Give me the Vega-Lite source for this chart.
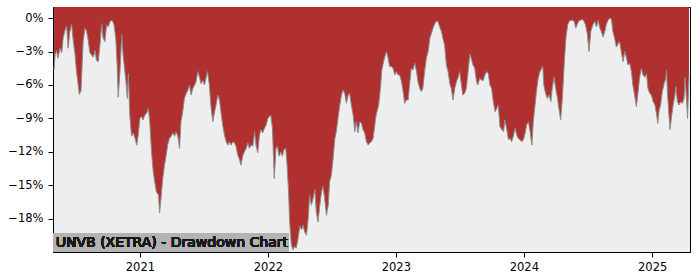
{
  "$schema": "https://vega.github.io/schema/vega-lite/v6.json",
  "width": 637,
  "height": 245,
  "autosize": {"type": "none"},
  "padding": {"left": 53, "top": 7, "right": 10, "bottom": 28},
  "background": "white",
  "config": {
    "font": "DejaVu Sans",
    "view": {"fill": "#EEEEEE", "stroke": "#000000", "strokeWidth": 1},
    "axis": {
      "domainColor": "#000000",
      "tickColor": "#000000",
      "labelColor": "#000000",
      "labelFont": "DejaVu Sans",
      "labelFontSize": 11.5,
      "tickSize": 5,
      "grid": false,
      "title": null
    }
  },
  "data": {"values": [
    {"d":"2020-05-01","v":-4.66},{"d":"2020-05-04","v":-3.3},{"d":"2020-05-08","v":-2.9},{"d":"2020-05-12","v":-3.6},{"d":"2020-05-18","v":-2.7},{"d":"2020-05-23","v":-3.1},{"d":"2020-05-27","v":-1.8},{"d":"2020-06-01","v":-1.1},{"d":"2020-06-06","v":-0.7},{"d":"2020-06-10","v":-2.7},{"d":"2020-06-15","v":-1.2},{"d":"2020-06-20","v":-0.57},{"d":"2020-06-25","v":-2.1},{"d":"2020-06-30","v":-3.3},{"d":"2020-07-04","v":-4.8},{"d":"2020-07-09","v":-6.0},{"d":"2020-07-12","v":-6.85},{"d":"2020-07-17","v":-6.5},{"d":"2020-07-20","v":-4.2},{"d":"2020-07-23","v":-2.1},{"d":"2020-07-28","v":-0.9},{"d":"2020-08-02","v":-1.2},{"d":"2020-08-07","v":-2.1},{"d":"2020-08-11","v":-3.1},{"d":"2020-08-16","v":-3.3},{"d":"2020-08-21","v":-3.5},{"d":"2020-08-26","v":-2.9},{"d":"2020-08-30","v":-3.8},{"d":"2020-09-04","v":-3.9},{"d":"2020-09-09","v":-2.4},{"d":"2020-09-14","v":-0.5},{"d":"2020-09-18","v":-1.8},{"d":"2020-09-23","v":-2.1},{"d":"2020-09-28","v":-0.6},{"d":"2020-10-03","v":-0.8},{"d":"2020-10-07","v":-0.3},{"d":"2020-10-14","v":-0.2},{"d":"2020-10-19","v":-0.6},{"d":"2020-10-24","v":-1.8},{"d":"2020-10-28","v":-4.2},{"d":"2020-10-31","v":-7.1},{"d":"2020-11-05","v":-4.8},{"d":"2020-11-10","v":-1.5},{"d":"2020-11-14","v":-3.3},{"d":"2020-11-22","v":-5.7},{"d":"2020-11-26","v":-7.2},{"d":"2020-11-29","v":-5.0},{"d":"2020-12-03","v":-8.7},{"d":"2020-12-08","v":-10.6},{"d":"2020-12-13","v":-10.3},{"d":"2020-12-18","v":-10.8},{"d":"2020-12-23","v":-11.4},{"d":"2020-12-27","v":-10.5},
    {"d":"2021-01-01","v":-9.0},{"d":"2021-01-06","v":-8.85},{"d":"2021-01-10","v":-9.15},{"d":"2021-01-15","v":-8.7},{"d":"2021-01-20","v":-8.55},{"d":"2021-01-25","v":-8.1},{"d":"2021-01-29","v":-9.3},{"d":"2021-02-03","v":-12.0},{"d":"2021-02-08","v":-13.8},{"d":"2021-02-12","v":-14.7},{"d":"2021-02-17","v":-15.6},{"d":"2021-02-23","v":-15.9},{"d":"2021-02-26","v":-17.5},{"d":"2021-03-02","v":-16.2},{"d":"2021-03-07","v":-14.4},{"d":"2021-03-12","v":-13.2},{"d":"2021-03-17","v":-12.3},{"d":"2021-03-21","v":-11.4},{"d":"2021-03-26","v":-10.8},{"d":"2021-03-31","v":-10.6},{"d":"2021-04-05","v":-10.3},{"d":"2021-04-10","v":-10.6},{"d":"2021-04-14","v":-10.2},{"d":"2021-04-19","v":-10.6},{"d":"2021-04-24","v":-11.7},{"d":"2021-04-28","v":-9.3},{"d":"2021-05-03","v":-8.4},{"d":"2021-05-08","v":-7.2},{"d":"2021-05-13","v":-6.75},{"d":"2021-05-18","v":-6.45},{"d":"2021-05-22","v":-6.0},{"d":"2021-05-27","v":-6.9},{"d":"2021-06-01","v":-6.3},{"d":"2021-06-06","v":-6.0},{"d":"2021-06-10","v":-5.7},{"d":"2021-06-15","v":-4.8},{"d":"2021-06-20","v":-5.3},{"d":"2021-06-24","v":-5.9},{"d":"2021-06-29","v":-5.6},{"d":"2021-07-04","v":-6.0},{"d":"2021-07-09","v":-5.3},{"d":"2021-07-13","v":-4.8},{"d":"2021-07-18","v":-6.0},{"d":"2021-07-23","v":-8.1},{"d":"2021-07-28","v":-9.3},{"d":"2021-08-02","v":-8.4},{"d":"2021-08-06","v":-7.8},{"d":"2021-08-11","v":-6.9},{"d":"2021-08-16","v":-7.35},{"d":"2021-08-20","v":-8.4},{"d":"2021-08-25","v":-9.6},{"d":"2021-08-30","v":-10.5},{"d":"2021-09-04","v":-11.1},{"d":"2021-09-09","v":-11.4},{"d":"2021-09-13","v":-11.1},{"d":"2021-09-18","v":-11.4},{"d":"2021-09-23","v":-11.1},{"d":"2021-09-28","v":-11.2},{"d":"2021-10-02","v":-11.5},{"d":"2021-10-07","v":-12.3},{"d":"2021-10-12","v":-12.7},{"d":"2021-10-16","v":-13.2},{"d":"2021-10-21","v":-12.4},{"d":"2021-10-26","v":-12.0},{"d":"2021-10-31","v":-11.7},{"d":"2021-11-05","v":-11.2},{"d":"2021-11-09","v":-11.7},{"d":"2021-11-14","v":-11.4},{"d":"2021-11-19","v":-11.5},{"d":"2021-11-24","v":-10.2},{"d":"2021-11-28","v":-11.4},{"d":"2021-12-03","v":-12.1},{"d":"2021-12-08","v":-10.5},{"d":"2021-12-12","v":-10.0},{"d":"2021-12-17","v":-10.3},{"d":"2021-12-22","v":-9.9},{"d":"2021-12-27","v":-9.6},
    {"d":"2022-01-01","v":-9.0},{"d":"2022-01-05","v":-8.85},{"d":"2022-01-09","v":-8.7},{"d":"2022-01-14","v":-9.9},{"d":"2022-01-19","v":-14.4},{"d":"2022-01-24","v":-11.7},{"d":"2022-01-28","v":-11.5},{"d":"2022-02-02","v":-12.4},{"d":"2022-02-07","v":-12.0},{"d":"2022-02-11","v":-12.4},{"d":"2022-02-16","v":-11.8},{"d":"2022-02-21","v":-11.7},{"d":"2022-02-24","v":-12.9},{"d":"2022-03-01","v":-15.6},{"d":"2022-03-04","v":-18.3},{"d":"2022-03-09","v":-20.4},{"d":"2022-03-14","v":-20.8},{"d":"2022-03-18","v":-20.5},{"d":"2022-03-23","v":-20.65},{"d":"2022-03-28","v":-19.8},{"d":"2022-04-02","v":-18.7},{"d":"2022-04-07","v":-19.0},{"d":"2022-04-11","v":-18.6},{"d":"2022-04-16","v":-19.2},{"d":"2022-04-21","v":-19.5},{"d":"2022-04-26","v":-18.0},{"d":"2022-04-30","v":-15.9},{"d":"2022-05-05","v":-16.8},{"d":"2022-05-10","v":-16.2},{"d":"2022-05-15","v":-15.4},{"d":"2022-05-19","v":-17.4},{"d":"2022-05-24","v":-18.3},{"d":"2022-05-29","v":-16.8},{"d":"2022-06-03","v":-15.6},{"d":"2022-06-07","v":-15.1},{"d":"2022-06-12","v":-16.2},{"d":"2022-06-17","v":-17.7},{"d":"2022-06-22","v":-16.8},{"d":"2022-06-26","v":-14.7},{"d":"2022-07-01","v":-14.1},{"d":"2022-07-06","v":-12.6},{"d":"2022-07-11","v":-10.8},{"d":"2022-07-15","v":-10.2},{"d":"2022-07-20","v":-9.0},{"d":"2022-07-25","v":-7.8},{"d":"2022-07-30","v":-6.9},{"d":"2022-08-03","v":-6.45},{"d":"2022-08-08","v":-6.75},{"d":"2022-08-13","v":-7.65},{"d":"2022-08-18","v":-6.9},{"d":"2022-08-22","v":-6.75},{"d":"2022-08-27","v":-7.8},{"d":"2022-09-01","v":-8.7},{"d":"2022-09-06","v":-10.2},{"d":"2022-09-10","v":-9.3},{"d":"2022-09-15","v":-10.3},{"d":"2022-09-20","v":-9.3},{"d":"2022-09-25","v":-9.45},{"d":"2022-09-29","v":-10.0},{"d":"2022-10-04","v":-10.3},{"d":"2022-10-09","v":-11.1},{"d":"2022-10-14","v":-11.4},{"d":"2022-10-18","v":-11.2},{"d":"2022-10-23","v":-11.1},{"d":"2022-10-28","v":-10.8},{"d":"2022-11-02","v":-9.6},{"d":"2022-11-04","v":-9.0},{"d":"2022-11-08","v":-8.4},{"d":"2022-11-13","v":-7.8},{"d":"2022-11-18","v":-6.3},{"d":"2022-11-22","v":-4.65},{"d":"2022-11-27","v":-3.9},{"d":"2022-12-02","v":-3.3},{"d":"2022-12-05","v":-3.0},{"d":"2022-12-10","v":-3.6},{"d":"2022-12-14","v":-4.35},{"d":"2022-12-19","v":-4.35},{"d":"2022-12-24","v":-4.5},{"d":"2022-12-29","v":-5.1},
    {"d":"2023-01-03","v":-4.8},{"d":"2023-01-07","v":-5.1},{"d":"2023-01-12","v":-5.1},{"d":"2023-01-17","v":-5.7},{"d":"2023-01-21","v":-6.45},{"d":"2023-01-26","v":-7.65},{"d":"2023-01-31","v":-7.35},{"d":"2023-02-05","v":-7.35},{"d":"2023-02-09","v":-6.0},{"d":"2023-02-14","v":-4.5},{"d":"2023-02-19","v":-4.65},{"d":"2023-02-24","v":-4.05},{"d":"2023-03-01","v":-4.8},{"d":"2023-03-05","v":-5.7},{"d":"2023-03-10","v":-6.3},{"d":"2023-03-15","v":-6.6},{"d":"2023-03-19","v":-6.3},{"d":"2023-03-24","v":-4.8},{"d":"2023-03-29","v":-3.6},{"d":"2023-04-03","v":-3.0},{"d":"2023-04-08","v":-1.8},{"d":"2023-04-12","v":-1.4},{"d":"2023-04-17","v":-0.9},{"d":"2023-04-22","v":-0.5},{"d":"2023-04-27","v":-0.27},{"d":"2023-05-01","v":-0.3},{"d":"2023-05-06","v":-0.8},{"d":"2023-05-11","v":-1.2},{"d":"2023-05-15","v":-1.8},{"d":"2023-05-20","v":-2.4},{"d":"2023-05-25","v":-4.2},{"d":"2023-05-30","v":-4.8},{"d":"2023-06-04","v":-5.9},{"d":"2023-06-08","v":-6.3},{"d":"2023-06-13","v":-7.35},{"d":"2023-06-18","v":-6.3},{"d":"2023-06-23","v":-5.7},{"d":"2023-06-27","v":-5.4},{"d":"2023-07-02","v":-4.8},{"d":"2023-07-07","v":-6.0},{"d":"2023-07-11","v":-6.9},{"d":"2023-07-16","v":-6.75},{"d":"2023-07-21","v":-6.3},{"d":"2023-07-26","v":-4.8},{"d":"2023-07-31","v":-3.2},{"d":"2023-08-04","v":-3.6},{"d":"2023-08-09","v":-4.2},{"d":"2023-08-14","v":-4.5},{"d":"2023-08-19","v":-5.7},{"d":"2023-08-23","v":-6.0},{"d":"2023-08-28","v":-5.4},{"d":"2023-09-02","v":-5.55},{"d":"2023-09-07","v":-5.6},{"d":"2023-09-12","v":-5.1},{"d":"2023-09-17","v":-4.8},{"d":"2023-09-22","v":-5.0},{"d":"2023-09-26","v":-6.0},{"d":"2023-10-01","v":-6.3},{"d":"2023-10-06","v":-7.5},{"d":"2023-10-11","v":-8.4},{"d":"2023-10-16","v":-8.1},{"d":"2023-10-20","v":-7.8},{"d":"2023-10-25","v":-9.75},{"d":"2023-10-30","v":-10.0},{"d":"2023-11-04","v":-10.2},{"d":"2023-11-08","v":-9.15},{"d":"2023-11-13","v":-9.9},{"d":"2023-11-18","v":-10.9},{"d":"2023-11-23","v":-10.8},{"d":"2023-11-27","v":-11.1},{"d":"2023-12-02","v":-10.6},{"d":"2023-12-07","v":-9.9},{"d":"2023-12-12","v":-10.5},{"d":"2023-12-16","v":-10.8},{"d":"2023-12-21","v":-10.9},{"d":"2023-12-26","v":-11.1},{"d":"2023-12-31","v":-10.9},
    {"d":"2024-01-05","v":-10.3},{"d":"2024-01-09","v":-9.6},{"d":"2024-01-14","v":-9.3},{"d":"2024-01-19","v":-10.2},{"d":"2024-01-24","v":-11.4},{"d":"2024-01-28","v":-9.3},{"d":"2024-02-02","v":-7.8},{"d":"2024-02-07","v":-6.3},{"d":"2024-02-11","v":-5.4},{"d":"2024-02-16","v":-4.8},{"d":"2024-02-21","v":-4.5},{"d":"2024-02-24","v":-4.35},{"d":"2024-02-27","v":-6.0},{"d":"2024-03-03","v":-6.75},{"d":"2024-03-08","v":-7.2},{"d":"2024-03-13","v":-6.9},{"d":"2024-03-18","v":-7.5},{"d":"2024-03-22","v":-6.3},{"d":"2024-03-27","v":-5.3},{"d":"2024-04-01","v":-6.3},{"d":"2024-04-06","v":-7.2},{"d":"2024-04-10","v":-8.1},{"d":"2024-04-15","v":-9.15},{"d":"2024-04-20","v":-7.2},{"d":"2024-04-25","v":-4.2},{"d":"2024-04-30","v":-1.8},{"d":"2024-05-05","v":-0.6},{"d":"2024-05-09","v":-0.3},{"d":"2024-05-14","v":-0.2},{"d":"2024-05-19","v":-0.2},{"d":"2024-05-24","v":-0.3},{"d":"2024-05-28","v":-0.9},{"d":"2024-06-02","v":-0.5},{"d":"2024-06-07","v":-0.2},{"d":"2024-06-11","v":-0.2},{"d":"2024-06-16","v":-0.1},{"d":"2024-06-21","v":-0.3},{"d":"2024-06-25","v":-0.6},{"d":"2024-06-30","v":-1.4},{"d":"2024-07-05","v":-3.0},{"d":"2024-07-10","v":-1.2},{"d":"2024-07-16","v":-0.6},{"d":"2024-07-21","v":-0.3},{"d":"2024-07-26","v":-0.8},{"d":"2024-07-31","v":-0.2},{"d":"2024-08-04","v":-0.8},{"d":"2024-08-09","v":-1.2},{"d":"2024-08-14","v":-1.7},{"d":"2024-08-19","v":-1.2},{"d":"2024-08-23","v":-0.6},{"d":"2024-08-28","v":-0.2},{"d":"2024-09-02","v":0.0},{"d":"2024-09-07","v":-0.1},{"d":"2024-09-11","v":-1.2},{"d":"2024-09-16","v":-1.8},{"d":"2024-09-21","v":-2.6},{"d":"2024-09-26","v":-2.3},{"d":"2024-09-30","v":-2.1},{"d":"2024-10-05","v":-3.0},{"d":"2024-10-10","v":-3.9},{"d":"2024-10-15","v":-3.0},{"d":"2024-10-20","v":-3.6},{"d":"2024-10-24","v":-4.2},{"d":"2024-10-29","v":-4.05},{"d":"2024-11-03","v":-4.8},{"d":"2024-11-07","v":-6.0},{"d":"2024-11-12","v":-6.9},{"d":"2024-11-17","v":-7.95},{"d":"2024-11-22","v":-6.6},{"d":"2024-11-26","v":-5.4},{"d":"2024-12-01","v":-4.5},{"d":"2024-12-06","v":-5.1},{"d":"2024-12-11","v":-5.3},{"d":"2024-12-16","v":-5.0},{"d":"2024-12-20","v":-6.3},{"d":"2024-12-25","v":-6.75},{"d":"2024-12-30","v":-6.9},
    {"d":"2025-01-04","v":-7.5},{"d":"2025-01-09","v":-7.8},{"d":"2025-01-14","v":-8.7},{"d":"2025-01-17","v":-9.45},{"d":"2025-01-21","v":-8.25},{"d":"2025-01-25","v":-7.8},{"d":"2025-01-30","v":-6.6},{"d":"2025-02-04","v":-5.9},{"d":"2025-02-09","v":-5.4},{"d":"2025-02-11","v":-4.65},{"d":"2025-02-14","v":-6.9},{"d":"2025-02-18","v":-8.7},{"d":"2025-02-21","v":-10.0},{"d":"2025-02-26","v":-8.7},{"d":"2025-03-02","v":-7.8},{"d":"2025-03-07","v":-6.9},{"d":"2025-03-10","v":-6.15},{"d":"2025-03-14","v":-7.5},{"d":"2025-03-19","v":-7.8},{"d":"2025-03-23","v":-7.5},{"d":"2025-03-28","v":-7.65},{"d":"2025-04-02","v":-7.2},{"d":"2025-04-05","v":-5.3},{"d":"2025-04-10","v":-7.8},{"d":"2025-04-12","v":-9.0},{"d":"2025-04-16","v":-5.3}
  ]},
  "encoding": {
    "x": {
      "field": "d",
      "type": "temporal",
      "scale": {
        "type": "utc",
        "domain": [
          {"year": 2020, "month": 4, "date": 28, "utc": true},
          {"year": 2025, "month": 4, "date": 19, "utc": true}
        ]
      },
      "axis": {
        "format": "%Y",
        "labelPadding": 4,
        "values": [
          {"year": 2021, "month": 1, "date": 1, "utc": true},
          {"year": 2022, "month": 1, "date": 1, "utc": true},
          {"year": 2023, "month": 1, "date": 1, "utc": true},
          {"year": 2024, "month": 1, "date": 1, "utc": true},
          {"year": 2025, "month": 1, "date": 1, "utc": true}
        ]
      }
    }
  },
  "layer": [
    {
      "mark": {"type": "area", "color": "#B03030", "interpolate": "linear", "clip": true},
      "encoding": {
        "y": {
          "field": "v",
          "type": "quantitative",
          "scale": {"domain": [-21, 1], "nice": false, "zero": false},
          "axis": {
            "values": [0, -3, -6, -9, -12, -15, -18],
            "labelExpr": "(datum.value < 0 ? '\u2212' : '') + format(abs(datum.value), 'd') + '%'",
            "labelPadding": 5
          }
        },
        "y2": {"datum": 1}
      }
    },
    {
      "mark": {"type": "line", "color": "#8C8C8C", "strokeWidth": 1, "clip": true},
      "encoding": {
        "y": {"field": "v", "type": "quantitative"}
      }
    },
    {
      "mark": {"type": "rect", "fill": "#B3B3B3", "strokeWidth": 0},
      "encoding": {
        "x": {"datum": {"year": 2020, "month": 4, "date": 28, "utc": true}},
        "x2": {"datum": {"year": 2022, "month": 3, "date": 2, "utc": true}},
        "y": {"datum": -19.3},
        "y2": {"datum": -21}
      }
    },
    {
      "mark": {"type": "text", "text": "UNVB (XETRA) - Drawdown Chart", "align": "left", "baseline": "middle", "fontSize": 14, "fontWeight": "normal", "font": "DejaVu Sans", "fill": "#1a1a1a", "strokeWidth": 0},
      "encoding": {
        "x": {"datum": {"year": 2020, "month": 5, "date": 6, "utc": true}},
        "y": {"datum": -20.15}
      }
    }
  ]
}
